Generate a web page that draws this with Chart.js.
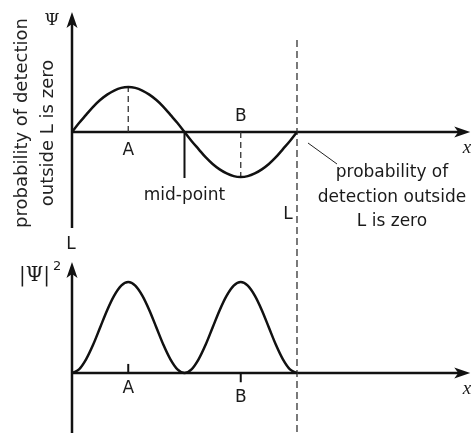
<!DOCTYPE html>
<html>
<head>
<meta charset="utf-8">
<script src="https://cdn.jsdelivr.net/npm/chart.js@4/dist/chart.umd.min.js"></script>
<style>
  html, body { margin: 0; padding: 0; background: #fff; }
  canvas { display: block; }
</style>
</head>
<body>
<canvas id="wave" width="472" height="433"></canvas>
<script>
// positions along the box, in units of L (steps of L/32)
const xPos = [
  0, 0.03125, 0.0625, 0.09375, 0.125, 0.15625, 0.1875, 0.21875, 0.25,
  0.28125, 0.3125, 0.34375, 0.375, 0.40625, 0.4375, 0.46875, 0.5,
  0.53125, 0.5625, 0.59375, 0.625, 0.65625, 0.6875, 0.71875, 0.75,
  0.78125, 0.8125, 0.84375, 0.875, 0.90625, 0.9375, 0.96875, 1
];
// wave function (top), peak = 1
const psi = [
  0, 0.2, 0.38, 0.56, 0.71, 0.83, 0.92, 0.98, 1,
  0.98, 0.92, 0.83, 0.71, 0.56, 0.38, 0.2, 0,
  -0.2, -0.38, -0.56, -0.71, -0.83, -0.92, -0.98, -1,
  -0.98, -0.92, -0.83, -0.71, -0.56, -0.38, -0.2, 0
];
// probability density (bottom), peak = 1
const psiSq = [
  0, 0.04, 0.15, 0.31, 0.5, 0.69, 0.85, 0.96, 1,
  0.96, 0.85, 0.69, 0.5, 0.31, 0.15, 0.04, 0,
  0.04, 0.15, 0.31, 0.5, 0.69, 0.85, 0.96, 1,
  0.96, 0.85, 0.69, 0.5, 0.31, 0.15, 0.04, 0
];
// marked points
const pointNames = ['A', 'B'];
const pointX = [0.25, 0.75];
const midX = 0.5;
const boxEnd = 1;

const labelFont = '"DejaVu Sans", sans-serif';
const ink = '#111';

const pts = (xs, ys) => xs.map((x, i) => ({ x, y: ys[i] }));

function arrowUp(ctx, x, y) {
  ctx.beginPath();
  ctx.moveTo(x, y);
  ctx.lineTo(x + 5.5, y + 16);
  ctx.lineTo(x, y + 12);
  ctx.lineTo(x - 5.5, y + 16);
  ctx.closePath();
  ctx.fill();
}

function arrowRight(ctx, x, y) {
  ctx.beginPath();
  ctx.moveTo(x, y);
  ctx.lineTo(x - 16, y - 5.5);
  ctx.lineTo(x - 12, y);
  ctx.lineTo(x - 16, y + 5.5);
  ctx.closePath();
  ctx.fill();
}

const decor = {
  id: 'decor',
  beforeDatasetsDraw(chart) {
    const { ctx, scales } = chart;
    const sx = scales.x, yt = scales.yTop, yb = scales.yBot;
    const x0 = sx.getPixelForValue(0);
    const xEnd = sx.getPixelForValue(1.77);
    const top0 = yt.getPixelForValue(0);
    const bot0 = yb.getPixelForValue(0);
    const xL = sx.getPixelForValue(boxEnd);

    ctx.save();
    ctx.strokeStyle = ink;
    ctx.fillStyle = ink;
    ctx.lineWidth = 2.5;
    ctx.lineCap = 'butt';

    // top axes
    ctx.beginPath();
    ctx.moveTo(x0, 20); ctx.lineTo(x0, 228);
    ctx.moveTo(x0, top0); ctx.lineTo(xEnd - 8, top0);
    ctx.stroke();
    arrowUp(ctx, x0, 12);
    arrowRight(ctx, xEnd, top0);

    // bottom axes
    ctx.beginPath();
    ctx.moveTo(x0, 270); ctx.lineTo(x0, 433);
    ctx.moveTo(x0, bot0); ctx.lineTo(xEnd - 8, bot0);
    ctx.stroke();
    arrowUp(ctx, x0, 262);
    arrowRight(ctx, xEnd, bot0);

    // edge of the box
    ctx.lineWidth = 1.3;
    ctx.strokeStyle = '#333';
    ctx.setLineDash([7, 4]);
    ctx.beginPath();
    ctx.moveTo(xL, 40); ctx.lineTo(xL, 433);
    ctx.stroke();
    ctx.setLineDash([]);

    // leader line to the note
    ctx.lineWidth = 1;
    ctx.strokeStyle = '#222';
    ctx.beginPath();
    ctx.moveTo(xL + 11, top0 + 11);
    ctx.lineTo(xL + 40, top0 + 32);
    ctx.stroke();
    ctx.restore();
  },
  afterDatasetsDraw(chart) {
    const { ctx, scales } = chart;
    const sx = scales.x, yt = scales.yTop, yb = scales.yBot;
    const x0 = sx.getPixelForValue(0);
    const top0 = yt.getPixelForValue(0);
    const bot0 = yb.getPixelForValue(0);
    const xL = sx.getPixelForValue(boxEnd);

    ctx.save();
    ctx.fillStyle = '#1a1a1a';
    ctx.textAlign = 'center';
    ctx.textBaseline = 'middle';

    // point labels, top: A below axis, B above axis
    ctx.font = '17px ' + labelFont;
    ctx.fillText(pointNames[0], sx.getPixelForValue(pointX[0]), top0 + 19);
    ctx.fillText(pointNames[1], sx.getPixelForValue(pointX[1]), top0 - 15);
    // point labels, bottom
    ctx.fillText(pointNames[0], sx.getPixelForValue(pointX[0]), bot0 + 16);
    ctx.fillText(pointNames[1], sx.getPixelForValue(pointX[1]), bot0 + 25);

    ctx.fillText('mid-point', sx.getPixelForValue(midX), 196);
    ctx.fillText('L', xL - 9, 215);
    ctx.fillText('L', x0 - 1, 245);

    ['probability of', 'detection outside', 'L is zero'].forEach((t, i) => {
      ctx.fillText(t, 392, 173 + i * 24.5);
    });

    // rotated note on the left
    ctx.font = '18px ' + labelFont;
    ctx.fillStyle = '#222';
    [['probability of detection', 22, 123], ['outside L is zero', 48, 133]].forEach(([t, x, y]) => {
      ctx.save();
      ctx.translate(x, y);
      ctx.rotate(-Math.PI / 2);
      ctx.fillText(t, 0, 0);
      ctx.restore();
    });

    // axis symbols
    ctx.fillStyle = '#1a1a1a';
    ctx.font = '17px "DejaVu Serif", serif';
    ctx.fillText('Ψ', 52, 21);
    ctx.textAlign = 'left';
    ctx.font = '20px "DejaVu Serif", serif';
    ctx.fillText('|Ψ|', 19, 276);
    ctx.font = '13px ' + labelFont;
    ctx.fillText('2', 53, 267);

    ctx.font = 'italic 19px "Liberation Serif", serif';
    ctx.textAlign = 'center';
    ctx.fillText('x', 467, top0 + 16);
    ctx.fillText('x', 467, bot0 + 16);
    ctx.restore();
  }
};

const line = (data, axis, extra) => Object.assign({
  data, yAxisID: axis, borderColor: ink, borderWidth: 2.5,
  pointRadius: 0, fill: false, tension: 0
}, extra);

new Chart(document.getElementById('wave'), {
  type: 'line',
  data: {
    datasets: [
      line(pts(xPos, psi), 'yTop', { cubicInterpolationMode: 'monotone' }),
      line(pts(xPos, psiSq), 'yBot', { cubicInterpolationMode: 'monotone' }),
      // dashed drops to the extremes of psi
      line([{ x: pointX[0], y: 0 }, { x: pointX[0], y: psi[8] }], 'yTop',
        { borderWidth: 1.3, borderColor: '#333', borderDash: [6, 4] }),
      line([{ x: pointX[1], y: 0 }, { x: pointX[1], y: psi[24] }], 'yTop',
        { borderWidth: 1.3, borderColor: '#333', borderDash: [6, 4] }),
      // mid-point marker
      line([{ x: midX, y: 0 }, { x: midX, y: -1.02 }], 'yTop', { borderWidth: 2 }),
      // small ticks on the bottom axis
      line([{ x: pointX[0], y: 0 }, { x: pointX[0], y: 0.1 }], 'yBot', { borderWidth: 2 }),
      line([{ x: pointX[1], y: 0 }, { x: pointX[1], y: -0.1 }], 'yBot', { borderWidth: 2 })
    ]
  },
  options: {
    responsive: false,
    animation: false,
    layout: { padding: 0 },
    plugins: { legend: { display: false }, tooltip: { enabled: false } },
    scales: {
      x: { type: 'linear', min: -0.32, max: 1.7778, display: false },
      yTop: { type: 'linear', position: 'left', min: -6.689, max: 2.933, display: false },
      yBot: { type: 'linear', position: 'left', min: -0.659, max: 4.099, display: false }
    }
  },
  plugins: [decor]
});
</script>
</body>
</html>
